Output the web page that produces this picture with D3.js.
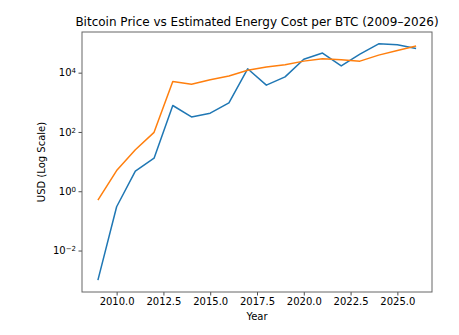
<!DOCTYPE html>
<html>
<head>
<meta charset="utf-8">
<script src="https://cdn.jsdelivr.net/npm/d3@7"></script>
<style>
  body { margin: 0; background: #fff; }
  text { font-family: "DejaVu Sans", sans-serif; fill: #000; }
</style>
</head>
<body>
<div id="chart"></div>
<script>
// data
const years = [2009, 2010, 2011, 2012, 2013, 2014, 2015, 2016, 2017, 2018,
               2019, 2020, 2021, 2022, 2023, 2024, 2025, 2026];
const btcPrice = [0.001, 0.3, 4.8, 13, 780, 320, 430, 960, 13500, 3800,
                  7200, 28500, 46000, 16800, 42000, 94000, 87000, 65000];
const energyCost = [0.5, 5, 25, 97, 5000, 4100, 5800, 7700, 12000, 15500,
                    18500, 24500, 29500, 27500, 24500, 39000, 56000, 79000];
const xTicks = [2010, 2012.5, 2015, 2017.5, 2020, 2022.5, 2025];
const yTicks = [1e-2, 1e0, 1e2, 1e4];

const width = 459, height = 335;
const margin = { top: 32, right: 27, bottom: 43, left: 82 };
const innerW = width - margin.left - margin.right;
const innerH = height - margin.top - margin.bottom;

const svg = d3.select("#chart")
  .append("svg")
    .attr("width", width)
    .attr("height", height);

const g = svg.append("g")
  .attr("transform", `translate(${margin.left}, ${margin.top})`);

// matplotlib-ish 5% margins
const xMin = d3.min(years), xMax = d3.max(years);
const xPad = (xMax - xMin) * 0.05;
const x = d3.scaleLinear()
  .domain([xMin - xPad, xMax + xPad])
  .range([0, innerW]);

const allVals = btcPrice.concat(energyCost);
const lMin = Math.log10(d3.min(allVals)), lMax = Math.log10(d3.max(allVals));
const lPad = (lMax - lMin) * 0.05;
const y = d3.scaleLog()
  .domain([Math.pow(10, lMin - lPad), Math.pow(10, lMax + lPad)])
  .range([innerH, 0]);

const line = d3.line()
  .x(d => x(d[0]))
  .y(d => y(d[1]));

const series = [
  { values: btcPrice, color: "#1f77b4" },
  { values: energyCost, color: "#ff7f0e" }
];

series.forEach(s => {
  g.append("path")
    .datum(years.map((yr, i) => [yr, s.values[i]]))
    .attr("fill", "none")
    .attr("stroke", s.color)
    .attr("stroke-width", 1.5)
    .attr("stroke-linejoin", "round")
    .attr("d", line);
});

// axes
const xAxis = g.append("g")
  .attr("transform", `translate(0, ${innerH})`)
  .call(d3.axisBottom(x).tickValues(xTicks).tickFormat(d3.format(".1f")).tickSize(3.5).tickPadding(2.5));

const yAxis = g.append("g")
  .call(d3.axisLeft(y).tickValues(yTicks).tickFormat("").tickSize(3.5));

yAxis.selectAll(".tick")
  .append("text")
    .attr("x", -6)
    .attr("dy", "0.32em")
    .attr("text-anchor", "end")
    .style("font-size", "10px")
    .each(function(d) {
      const e = Math.round(Math.log10(d));
      const t = d3.select(this);
      t.append("tspan").text("10");
      t.append("tspan")
        .attr("dy", "-0.45em")
        .style("font-size", "7px")
        .text(String(e).replace("-", "\u2212"));
    });

[xAxis, yAxis].forEach(a => {
  a.select(".domain").remove();
  a.selectAll(".tick line").attr("stroke", "#222").attr("stroke-width", 0.8);
});
xAxis.selectAll(".tick text").style("font-size", "10px").attr("fill", "#000");

// frame
g.append("rect")
  .attr("width", innerW)
  .attr("height", innerH)
  .attr("fill", "none")
  .attr("stroke", "#666")
  .attr("stroke-width", 1);

// labels
svg.append("text")
  .attr("x", margin.left + innerW / 2)
  .attr("y", 26)
  .attr("text-anchor", "middle")
  .style("font-size", "12px")
  .text("Bitcoin Price vs Estimated Energy Cost per BTC (2009\u20132026)");

svg.append("text")
  .attr("x", margin.left + innerW / 2)
  .attr("y", 320)
  .attr("text-anchor", "middle")
  .style("font-size", "10px")
  .text("Year");

svg.append("text")
  .attr("transform", `translate(45, ${margin.top + innerH / 2}) rotate(-90)`)
  .attr("text-anchor", "middle")
  .style("font-size", "10px")
  .text("USD (Log Scale)");
</script>
</body>
</html>
